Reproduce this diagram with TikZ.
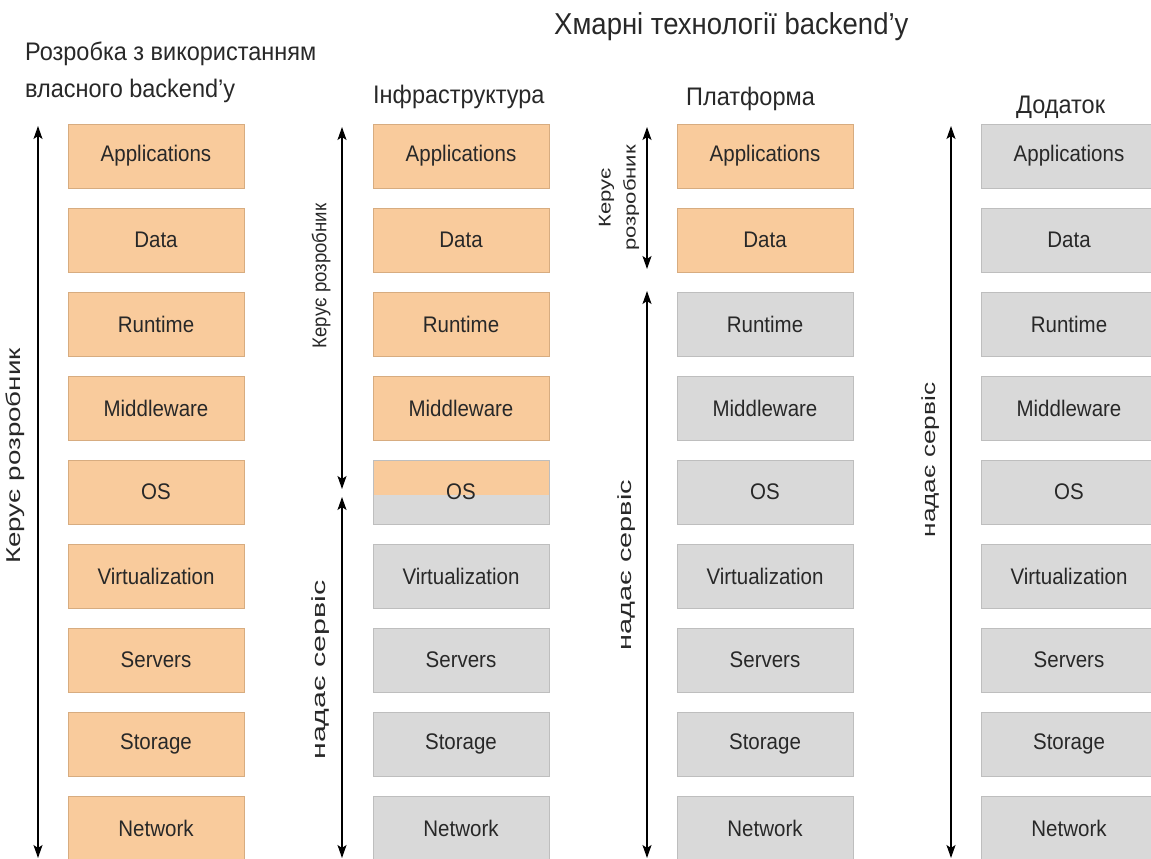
\documentclass[tikz,border=0pt]{standalone}
\usepackage{fontspec}
\setmainfont{Liberation Sans}
\usetikzlibrary{arrows.meta}
\definecolor{orng}{RGB}{249,203,156}
\definecolor{orngd}{RGB}{215,172,128}
\definecolor{gry}{RGB}{217,217,217}
\definecolor{gryd}{RGB}{190,190,190}
\definecolor{txt}{RGB}{40,40,40}
\newcommand{\tall}[2]{\scalebox{1}[#1]{#2}}
\newcommand{\longer}[2]{\scalebox{#1}[1]{#2}}
\tikzset{
  layer/.style={minimum width=176pt,minimum height=64pt,inner sep=0pt,font=\fontsize{20.5}{22}\selectfont,text=txt},
  dev/.style={layer,fill=orng,draw=orngd,line width=0.8pt},
  svc/.style={layer,fill=gry,draw=gryd,line width=0.8pt},
  split/.style={layer,fill=gry,draw=gryd,line width=0.8pt,
    path picture={\fill[orng] (path picture bounding box.north west) rectangle ([yshift=-3pt]path picture bounding box.east);}},
  dbl/.style={{Stealth[length=13pt,width=9pt,inset=3pt]}-{Stealth[length=13pt,width=9pt,inset=3pt]},line width=1.5pt},
  lab/.style={rotate=90,font=\fontsize{19}{21}\selectfont,text=txt,inner sep=0pt},
  head/.style={font=\fontsize{23.5}{26}\selectfont,text=txt,inner sep=0pt,anchor=base west}
}
\begin{document}
\begin{tikzpicture}[x=1pt,y=-1pt]
\useasboundingbox (0,0) rectangle (1151,859);
\clip (0,0) rectangle (1151,859);
% headings
\node[head,font=\fontsize{27.5}{30}\selectfont] (title) at (554,35) {\tall{1.1}{Хмарні технології backend’у}};
\node[head] (h1a) at (25,61) {\tall{1.08}{Розробка з використанням}};
\node[head] (h1b) at (25,97) {\tall{1.08}{власного backend’у}};
\node[head] (h2) at (373,103) {\tall{1.08}{Інфраструктура}};
\node[head] (h3) at (686,105) {\tall{1.08}{Платформа}};
\node[head] (h4) at (1016,113) {\tall{1.08}{Додаток}};
% column 1
\foreach \t [count=\i from 0] in {Applications,Data,Runtime,Middleware,OS,Virtualization,Servers,Storage,Network}
  \node[dev] (c1r\i) at (156,{156+84*\i}) {\tall{1.1}{\t}};
% column 2
\foreach \t [count=\i from 0] in {Applications,Data,Runtime,Middleware}
  \node[dev] (c2r\i) at (461,{156+84*\i}) {\tall{1.1}{\t}};
\node[split] (c2r4) at (461,492) {\tall{1.1}{OS}};
\foreach \t [count=\i from 5] in {Virtualization,Servers,Storage,Network}
  \node[svc] (c2r\i) at (461,{156+84*\i}) {\tall{1.1}{\t}};
% column 3
\foreach \t [count=\i from 0] in {Applications,Data}
  \node[dev] (c3r\i) at (765,{156+84*\i}) {\tall{1.1}{\t}};
\foreach \t [count=\i from 2] in {Runtime,Middleware,OS,Virtualization,Servers,Storage,Network}
  \node[svc] (c3r\i) at (765,{156+84*\i}) {\tall{1.1}{\t}};
% column 4
\foreach \t [count=\i from 0] in {Applications,Data,Runtime,Middleware,OS,Virtualization,Servers,Storage,Network}
  \node[svc] (c4r\i) at (1069,{156+84*\i}) {\tall{1.1}{\t}};
% arrows
\coordinate (a1t) at (38,126); \coordinate (a1b) at (38,858);
\draw[dbl] (a1t) -- (a1b);
\node[lab,font=\fontsize{20}{22}\selectfont] (l1) at (15,456) {\longer{1.39}{Керує розробник}};
\coordinate (a2t) at (342,127); \coordinate (a2m) at (342,489);
\coordinate (a2n) at (342,497); \coordinate (a2b) at (342,858);
\draw[dbl] (a2t) -- (a2m);
\draw[dbl] (a2n) -- (a2b);
\node[lab,font=\fontsize{20}{22}\selectfont] (l2a) at (321,276) {\longer{0.93}{Керує розробник}};
\node[lab] (l2b) at (321,670) {\longer{1.6}{надає сервіс}};
\coordinate (a3t) at (647,127); \coordinate (a3m) at (647,269);
\coordinate (a3n) at (647,291); \coordinate (a3b) at (647,858);
\draw[dbl] (a3t) -- (a3m);
\draw[dbl] (a3n) -- (a3b);
\node[lab,font=\fontsize{17}{25}\selectfont,align=center] (l3a) at (619,198) {\longer{1.3}{Керує}\\\longer{1.3}{розробник}};
\node[lab] (l3b) at (627,565) {\longer{1.52}{надає сервіс}};
\coordinate (a4t) at (951,126); \coordinate (a4b) at (951,858);
\draw[dbl] (a4t) -- (a4b);
\node[lab] (l4) at (931,460) {\longer{1.38}{надає сервіс}};
\end{tikzpicture}
\end{document}
